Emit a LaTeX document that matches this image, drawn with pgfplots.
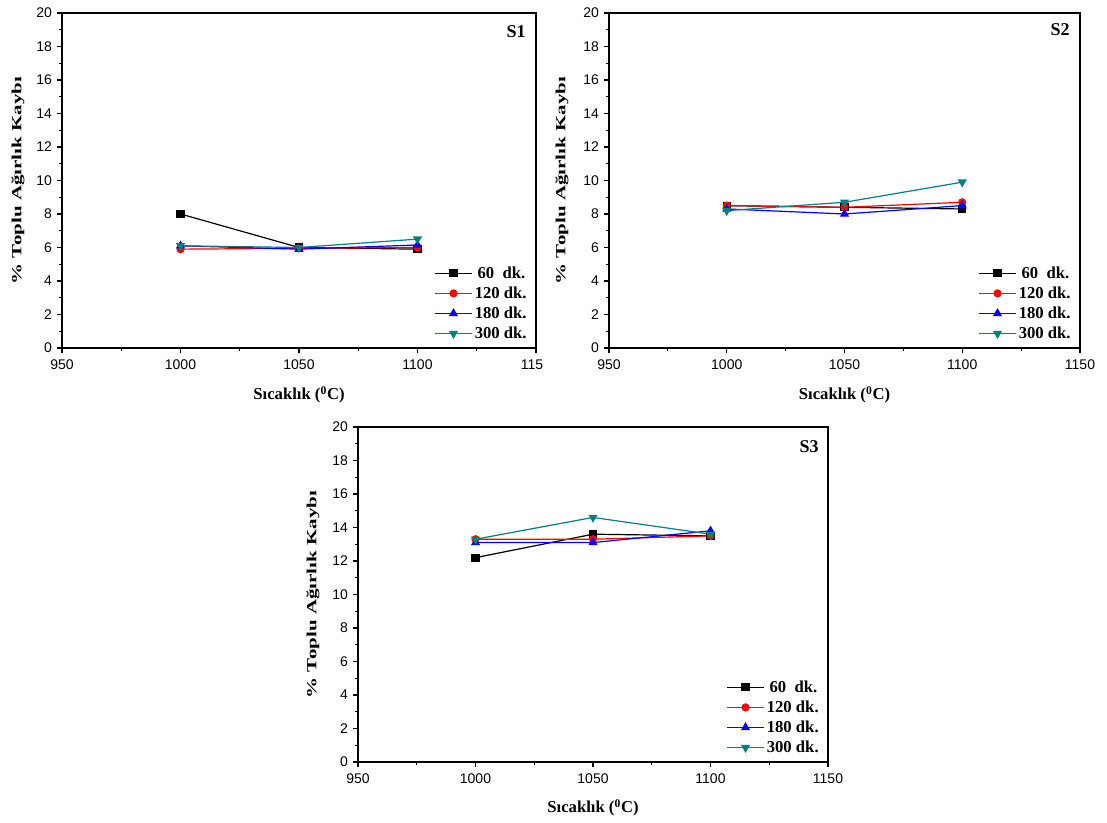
\documentclass[border=0pt]{standalone}
\usepackage{fontspec}
\setmainfont{Liberation Serif}
\setsansfont{Liberation Sans}
\usepackage{pgfplots}
\pgfplotsset{compat=1.18}
\definecolor{dcyan}{RGB}{0,128,128}
\definecolor{dblue}{RGB}{0,0,255}
\definecolor{dred}{RGB}{255,0,0}
\pgfplotsset{
  panel/.style={
    scale only axis,
    xmin=950, xmax=1150, ymin=0, ymax=20,
    xtick={950,1000,1050,1100,1150},
    ytick={0,2,...,20},
    minor x tick num=1, minor y tick num=1,
    tick pos=left, tick align=outside,
    major tick length=4pt, minor tick length=2.2pt,
    every tick/.style={black, line width=0.9pt},
    axis line style={line width=1.3pt},
    ticklabel style={font=\sffamily\fontsize{10.5}{12}\selectfont},
    xticklabel style={yshift=-1.5pt},
    /pgf/number format/assume math mode=true,
    /pgf/number format/set thousands separator={},
    xlabel={\bfseries Sıcaklık (\textsuperscript{0}C)},
    ylabel={\scalebox{1.5}[1]{\bfseries\% Toplu Ağırlık Kaybı}},
    xlabel style={font=\fontsize{12.5}{14}\selectfont, anchor=center},
    ylabel style={font=\fontsize{10.5}{12}\selectfont, anchor=center},
    legend cell align=left,
    legend style={draw=none, fill=none, font=\bfseries\fontsize{12.5}{14}\selectfont,
      row sep=1.9pt, inner sep=0pt, at={(0.985,0.25)}, anchor=north east,
      nodes={inner sep=1.5pt}},
    legend image code/.code={\draw[mark repeat=2,mark phase=2,#1] plot coordinates {(0pt,0pt)(14pt,0pt)(28pt,0pt)};},
    every axis plot/.append style={line width=0.9pt, mark size=2.6pt},
  },
  s60/.style={black, mark=square*},
  s120/.style={dred, mark=*},
  s180/.style={dblue, mark=triangle*, mark size=3.1pt},
  s300/.style={dcyan, mark=triangle*, mark size=3.1pt, mark options={rotate=180}},
}
\begin{document}
\begin{tikzpicture}
\useasboundingbox (0,0) rectangle (830.25pt,617.25pt);
% ---------- S1 ----------
\begin{axis}[panel, at={(46.5pt,356.25pt)}, anchor=south west,
  width=355.5pt, height=251.25pt,
  xlabel style={at={(axis description cs:0.5,-0.14)}},
  ylabel style={at={(axis description cs:-0.093,0.5)}}]
\addplot[s60] coordinates {(1000,8.0) (1050,6.0) (1100,5.9)};
\addplot[s120] coordinates {(1000,5.9) (1050,5.95) (1100,6.0)};
\addplot[s180] coordinates {(1000,6.1) (1050,5.9) (1100,6.15)};
\addplot[s300] coordinates {(1000,6.1) (1050,6.0) (1100,6.5)};
\legend{\,60\ \ dk.,120 dk.,180 dk.,300 dk.}
\node[font=\bfseries\fontsize{13.5}{15}\selectfont] at (axis description cs:0.958,0.943) {S1};
\end{axis}
\fill[white] (407.25pt,334pt) rectangle (442.5pt,353.25pt);
% ---------- S2 ----------
\begin{axis}[panel, at={(456.75pt,356.25pt)}, anchor=south west,
  width=353.25pt, height=251.25pt,
  xlabel style={at={(axis description cs:0.5,-0.14)}},
  ylabel style={at={(axis description cs:-0.1,0.5)}}]
\addplot[s60] coordinates {(1000,8.5) (1050,8.4) (1100,8.3)};
\addplot[s120] coordinates {(1000,8.5) (1050,8.4) (1100,8.7)};
\addplot[s180] coordinates {(1000,8.3) (1050,8.0) (1100,8.5)};
\addplot[s300] coordinates {(1000,8.2) (1050,8.7) (1100,9.9)};
\legend{\,60\ \ dk.,120 dk.,180 dk.,300 dk.}
\node[font=\bfseries\fontsize{13.5}{15}\selectfont] at (axis description cs:0.958,0.95) {S2};
\end{axis}
% ---------- S3 ----------
\begin{axis}[panel, at={(268.5pt,45.75pt)}, anchor=south west,
  width=352.5pt, height=251.25pt,
  xlabel style={at={(axis description cs:0.5,-0.137)}},
  ylabel style={at={(axis description cs:-0.096,0.5)}}]
\addplot[s60] coordinates {(1000,12.2) (1050,13.6) (1100,13.5)};
\addplot[s120] coordinates {(1000,13.3) (1050,13.3) (1100,13.5)};
\addplot[s180] coordinates {(1000,13.1) (1050,13.1) (1100,13.8)};
\addplot[s300] coordinates {(1000,13.3) (1050,14.6) (1100,13.6)};
\legend{\,60\ \ dk.,120 dk.,180 dk.,300 dk.}
\node[font=\bfseries\fontsize{13.5}{15}\selectfont] at (axis description cs:0.96,0.94) {S3};
\end{axis}
\end{tikzpicture}
\end{document}
